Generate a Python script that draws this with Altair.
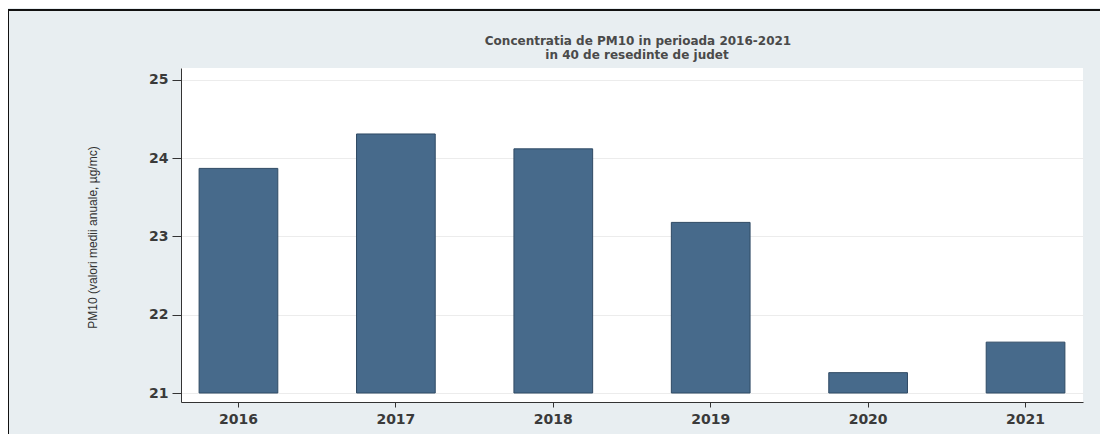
import altair as alt
import pandas as pd

years = ["2016", "2017", "2018", "2019", "2020", "2021"]
pm10 = [23.87, 24.31, 24.12, 23.18, 21.26, 21.65]
y_ticks = [21, 22, 23, 24, 25]
title_line1 = "Concentratia de PM10  in perioada 2016-2021"
title_line2 = "in 40 de resedinte de judet"
y_title = "PM10 (valori medii anuale, µg/mc)"

df = pd.DataFrame({"year": years, "pm10": pm10})
one = pd.DataFrame({"k": [0]})

bars = alt.Chart(df).mark_bar(
    color="#476a8b", stroke="#2f4a64", strokeWidth=1
).encode(
    x=alt.X(
        "year:N",
        sort=years,
        scale=alt.Scale(paddingInner=0.5, paddingOuter=0.115),
        axis=alt.Axis(
            title=None, labelAngle=0, labelFont="DejaVu Sans", labelFontWeight="bold",
            labelFontSize=14, labelColor="#3a3a3a", tickSize=5, tickColor="#333333",
            domainColor="#333333", labelPadding=5, grid=False,
        ),
    ),
    y=alt.Y(
        "pm10:Q",
        scale=alt.Scale(domain=[20.885, 25.153], nice=False, zero=False),
        axis=alt.Axis(
            values=y_ticks, title=y_title, grid=True, gridColor="#ececec",
            labelFont="DejaVu Sans", labelFontWeight="bold", labelFontSize=14,
            labelColor="#3a3a3a", labelPadding=4, tickSize=9, tickColor="#333333",
            domainColor="#333333", titleFont="Liberation Sans Narrow, Liberation Sans",
            titleFontSize=12, titleFontWeight="normal", titleColor="#333333",
            titleX=-89, titleY=169, titleAngle=270, titleAlign="center",
            titleBaseline="middle",
        ),
    ),
    y2=alt.datum(21),
)

t1 = alt.Chart(one).mark_text(
    text=title_line1, font="DejaVu Sans", fontSize=12, fontWeight="bold",
    color="#4a4a4a", align="center", baseline="alphabetic",
).encode(x=alt.value(457), y=alt.value(-23.5))
t2 = alt.Chart(one).mark_text(
    text=title_line2, font="DejaVu Sans", fontSize=12, fontWeight="bold",
    color="#4a4a4a", align="center", baseline="alphabetic",
).encode(x=alt.value(456), y=alt.value(-9.5))

frame_top = alt.Chart(one).mark_rule(color="#111111", strokeWidth=2).encode(
    x=alt.value(-174), x2=alt.value(930), y=alt.value(-58)
)
frame_left = alt.Chart(one).mark_rule(color="#111111", strokeWidth=2).encode(
    x=alt.value(-173), y=alt.value(-58), y2=alt.value(400)
)

chart = alt.layer(bars, t1, t2, frame_top, frame_left).properties(
    width=902,
    height=334,
    autosize=alt.AutoSizeParams(type="none"),
    padding={"left": 173, "top": 60, "right": 17, "bottom": 32},
    background="#e8eef1",
).configure_view(fill="white", strokeWidth=0)

chart.save("out.html", embed_options={"renderer": "svg", "actions": False})
